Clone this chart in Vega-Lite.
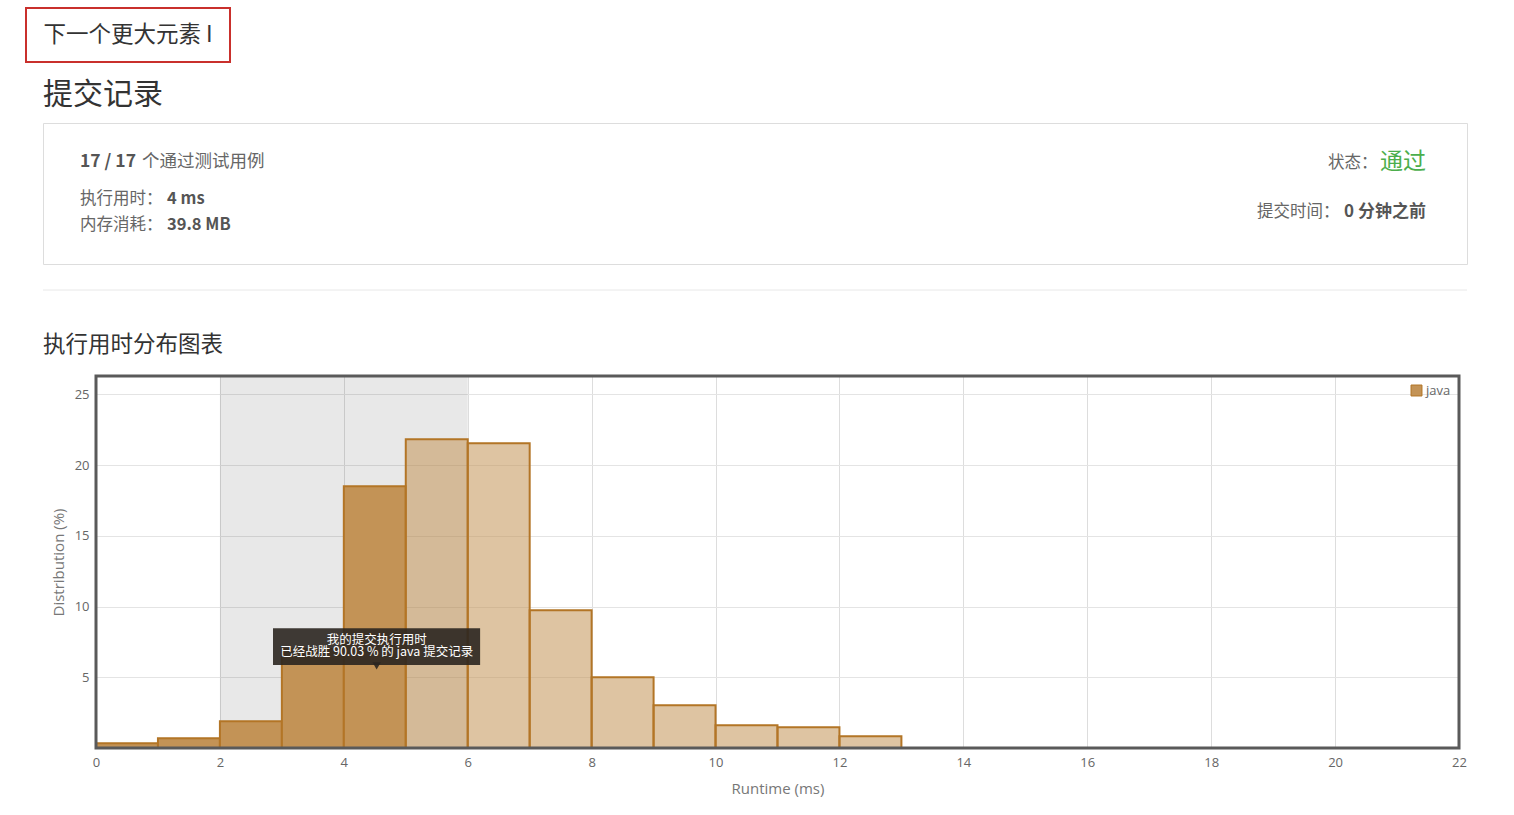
{
  "$schema": "https://vega.github.io/schema/vega-lite/v6.json",
  "background": "#ffffff",
  "padding": {"left": 25, "top": 7, "right": 10, "bottom": 5},
  "bounds": "full",
  "spacing": 0,
  "resolve": {
    "scale": {"color": "independent", "fillOpacity": "independent"},
    "legend": {"color": "independent", "fillOpacity": "independent"}
  },
  "config": {
    "view": {"stroke": null},
    "font": "Noto Sans CJK SC",
    "text": {"font": "Noto Sans CJK SC"}
  },
  "datasets": {
    "problem": [{"name": "下一个更大元素 I"}],
    "summary": [
      {"item": "testcases", "label": "个通过测试用例", "value": "17 / 17"},
      {"item": "runtime", "label": "执行用时：", "value": "4 ms"},
      {"item": "memory", "label": "内存消耗：", "value": "39.8 MB"},
      {"item": "status", "label": "状态：", "value": "通过"},
      {"item": "time", "label": "提交时间：", "value": "0 分钟之前"}
    ],
    "bins": [
      {"start": 0, "end": 1, "pct": 0.33, "lang": "java", "relative": "at or below mine"},
      {"start": 1, "end": 2, "pct": 0.69, "lang": "java", "relative": "at or below mine"},
      {"start": 2, "end": 3, "pct": 1.89, "lang": "java", "relative": "at or below mine"},
      {"start": 3, "end": 4, "pct": 7.0, "lang": "java", "relative": "at or below mine"},
      {"start": 4, "end": 5, "pct": 18.5, "lang": "java", "relative": "at or below mine"},
      {"start": 5, "end": 6, "pct": 21.82, "lang": "java", "relative": "above mine"},
      {"start": 6, "end": 7, "pct": 21.54, "lang": "java", "relative": "above mine"},
      {"start": 7, "end": 8, "pct": 9.73, "lang": "java", "relative": "above mine"},
      {"start": 8, "end": 9, "pct": 5.0, "lang": "java", "relative": "above mine"},
      {"start": 9, "end": 10, "pct": 3.02, "lang": "java", "relative": "above mine"},
      {"start": 10, "end": 11, "pct": 1.61, "lang": "java", "relative": "above mine"},
      {"start": 11, "end": 12, "pct": 1.47, "lang": "java", "relative": "above mine"},
      {"start": 12, "end": 13, "pct": 0.83, "lang": "java", "relative": "above mine"}
    ],
    "highlight": [{"from": 2, "to": 6}],
    "note": [{"line1": "我的提交执行用时", "line2": "已经战胜 90.03 % 的 java 提交记录"}],
    "blank": [{}]
  },
  "vconcat": [
    {
      "width": 204,
      "height": 54,
      "view": {"stroke": "#c9302c", "strokeWidth": 2},
      "data": {"name": "problem"},
      "mark": {"type": "text", "fontSize": 22.5, "color": "#333333", "align": "center", "baseline": "middle"},
      "encoding": {"text": {"field": "name"}}
    },
    {"width": 1, "height": 16, "data": {"name": "blank"}, "mark": {"type": "rect", "fill": "#ffffff"}, "encoding": {}},
    {
      "bounds": "flush",
      "spacing": 0,
      "hconcat": [
        {"width": 17, "height": 141, "data": {"name": "blank"}, "mark": {"type": "rect", "fill": "#ffffff"}, "encoding": {}},
        {
          "width": 1424,
          "height": 141,
          "title": {"text": "提交记录", "anchor": "start", "fontSize": 30, "fontWeight": "normal", "color": "#333333", "offset": 13},
          "view": {"stroke": "#dddddd", "strokeWidth": 1},
          "data": {"name": "summary"},
          "layer": [
            {
              "transform": [{"filter": "datum.item === 'testcases'"}],
              "mark": {"type": "text", "align": "left", "baseline": "middle", "fontSize": 17.5, "fontWeight": "bold", "color": "#555555"},
              "encoding": {"text": {"field": "value"}, "x": {"value": 37}, "y": {"value": 39}}
            },
            {
              "transform": [{"filter": "datum.item === 'testcases'"}],
              "mark": {"type": "text", "align": "left", "baseline": "middle", "fontSize": 17.5, "color": "#666666"},
              "encoding": {"text": {"field": "label"}, "x": {"value": 99}, "y": {"value": 39}}
            },
            {
              "transform": [{"filter": "datum.item === 'runtime'"}],
              "mark": {"type": "text", "align": "left", "baseline": "middle", "fontSize": 16.5, "color": "#666666"},
              "encoding": {"text": {"field": "label"}, "x": {"value": 37}, "y": {"value": 76}}
            },
            {
              "transform": [{"filter": "datum.item === 'runtime'"}],
              "mark": {"type": "text", "align": "left", "baseline": "middle", "fontSize": 16.5, "fontWeight": "bold", "color": "#555555"},
              "encoding": {"text": {"field": "value"}, "x": {"value": 124}, "y": {"value": 76}}
            },
            {
              "transform": [{"filter": "datum.item === 'memory'"}],
              "mark": {"type": "text", "align": "left", "baseline": "middle", "fontSize": 16.5, "color": "#666666"},
              "encoding": {"text": {"field": "label"}, "x": {"value": 37}, "y": {"value": 102}}
            },
            {
              "transform": [{"filter": "datum.item === 'memory'"}],
              "mark": {"type": "text", "align": "left", "baseline": "middle", "fontSize": 16.5, "fontWeight": "bold", "color": "#555555"},
              "encoding": {"text": {"field": "value"}, "x": {"value": 124}, "y": {"value": 102}}
            },
            {
              "transform": [{"filter": "datum.item === 'status'"}],
              "mark": {"type": "text", "align": "left", "baseline": "middle", "fontSize": 16.5, "color": "#666666"},
              "encoding": {"text": {"field": "label"}, "x": {"value": 1285}, "y": {"value": 40}}
            },
            {
              "transform": [{"filter": "datum.item === 'status'"}],
              "mark": {"type": "text", "align": "left", "baseline": "middle", "fontSize": 23, "color": "#4cae4c"},
              "encoding": {"text": {"field": "value"}, "x": {"value": 1337}, "y": {"value": 39}}
            },
            {
              "transform": [{"filter": "datum.item === 'time'"}],
              "mark": {"type": "text", "align": "left", "baseline": "middle", "fontSize": 16.5, "color": "#666666"},
              "encoding": {"text": {"field": "label"}, "x": {"value": 1214}, "y": {"value": 89}}
            },
            {
              "transform": [{"filter": "datum.item === 'time'"}],
              "mark": {"type": "text", "align": "left", "baseline": "middle", "fontSize": 17, "fontWeight": "bold", "color": "#555555"},
              "encoding": {"text": {"field": "value"}, "x": {"value": 1301}, "y": {"value": 89}}
            }
          ]
        }
      ]
    },
    {"width": 1, "height": 24, "data": {"name": "blank"}, "mark": {"type": "rect", "fill": "#ffffff"}, "encoding": {}},
    {
      "bounds": "flush",
      "spacing": 0,
      "hconcat": [
        {"width": 17, "height": 1, "data": {"name": "blank"}, "mark": {"type": "rect", "fill": "#ffffff"}, "encoding": {}},
        {
          "width": 1424,
          "height": 1,
          "data": {"name": "blank"},
          "mark": {"type": "rule", "color": "#e8e8e8", "strokeWidth": 1},
          "encoding": {"y": {"datum": 1, "type": "quantitative", "scale": {"domain": [0, 1]}, "axis": null}}
        }
      ]
    },
    {"width": 1, "height": 43, "data": {"name": "blank"}, "mark": {"type": "rect", "fill": "#ffffff"}, "encoding": {}},
    {
      "bounds": "flush",
      "spacing": 0,
      "resolve": {
        "scale": {"color": "independent", "fillOpacity": "independent"},
        "legend": {"color": "independent", "fillOpacity": "independent"}
      },
      "hconcat": [
        {"width": 70, "height": 372, "data": {"name": "blank"}, "mark": {"type": "rect", "fill": "#ffffff"}, "encoding": {}},
        {
          "width": 1363,
          "height": 372,
          "title": {"text": "执行用时分布图表", "anchor": "start", "frame": "group", "dx": -53, "fontSize": 22.5, "fontWeight": "normal", "color": "#333333", "offset": 18},
          "layer": [
            {
              "data": {"name": "highlight"},
              "mark": {"type": "rect", "fill": "#000000", "opacity": 0.09},
              "encoding": {
                "x": {"field": "from", "type": "quantitative"},
                "x2": {"field": "to"}
              }
            },
            {
              "data": {"name": "bins"},
              "mark": {"type": "bar", "stroke": "#b37526", "strokeWidth": 2},
              "encoding": {
                "x": {
                  "field": "start", "type": "quantitative",
                  "scale": {"domain": [0, 22], "nice": false, "zero": false},
                  "axis": {
                    "values": [0, 2, 4, 6, 8, 10, 12, 14, 16, 18, 20, 22], "format": "d",
                    "title": "Runtime (ms)", "grid": true, "gridColor": "#dddddd",
                    "domain": false, "ticks": false, "labelFlush": false,
                    "labelPadding": 8, "labelFontSize": 13, "labelColor": "#666666", "labelFont": "Open Sans",
                    "titleFont": "Open Sans", "titleFontSize": 15, "titleFontWeight": "normal", "titleColor": "#777777", "titlePadding": 12
                  }
                },
                "x2": {"field": "end"},
                "y": {
                  "field": "pct", "type": "quantitative",
                  "scale": {"domain": [0, 26.3], "nice": false},
                  "axis": {
                    "values": [5, 10, 15, 20, 25], "format": "d",
                    "title": "Distribution (%)", "grid": true, "gridColor": "#e4e4e4",
                    "domain": false, "ticks": false,
                    "labelPadding": 7, "labelFontSize": 13, "labelColor": "#666666", "labelFont": "Open Sans",
                    "titleFont": "Open Sans", "titleFontSize": 15, "titleFontWeight": "normal", "titleColor": "#777777", "titlePadding": 8
                  }
                },
                "y2": {"datum": 0},
                "color": {
                  "field": "lang", "type": "nominal",
                  "scale": {"range": ["#c39356"]},
                  "legend": {
                    "title": null, "orient": "top-right", "offset": 8, "padding": 0,
                    "symbolType": "square", "symbolSize": 120, "symbolStrokeColor": "#b37526", "symbolStrokeWidth": 1,
                    "labelFont": "Open Sans", "labelFontSize": 13, "labelColor": "#666666", "labelOffset": 3
                  }
                },
                "fillOpacity": {
                  "field": "relative", "type": "nominal",
                  "scale": {"domain": ["at or below mine", "above mine"], "range": [1, 0.55]},
                  "legend": null
                }
              }
            },
            {
              "data": {"name": "note"},
              "mark": {"type": "rect", "fill": "#2b2620", "opacity": 0.9},
              "encoding": {
                "x": {"datum": 2.857, "type": "quantitative"},
                "x2": {"datum": 6.2},
                "y": {"datum": 8.47, "type": "quantitative"},
                "y2": {"datum": 5.86}
              }
            },
            {
              "data": {"name": "note"},
              "mark": {"type": "point", "shape": "triangle-down", "filled": true, "fill": "#2b2620", "opacity": 0.9, "size": 70, "strokeWidth": 0},
              "encoding": {
                "x": {"datum": 4.53, "type": "quantitative"},
                "y": {"datum": 5.8, "type": "quantitative"}
              }
            },
            {
              "data": {"name": "note"},
              "mark": {"type": "text", "color": "#ffffff", "fontSize": 12.5, "align": "center", "baseline": "middle"},
              "encoding": {
                "text": {"field": "line1"},
                "x": {"datum": 4.53, "type": "quantitative"},
                "y": {"datum": 7.61, "type": "quantitative"}
              }
            },
            {
              "data": {"name": "note"},
              "mark": {"type": "text", "color": "#ffffff", "fontSize": 12.5, "align": "center", "baseline": "middle"},
              "encoding": {
                "text": {"field": "line2"},
                "x": {"datum": 4.53, "type": "quantitative"},
                "y": {"datum": 6.77, "type": "quantitative"}
              }
            },
            {
              "data": {"name": "blank"},
              "mark": {"type": "rect", "filled": false, "stroke": "#5a5a5a", "strokeWidth": 3},
              "encoding": {}
            }
          ]
        }
      ]
    }
  ]
}
